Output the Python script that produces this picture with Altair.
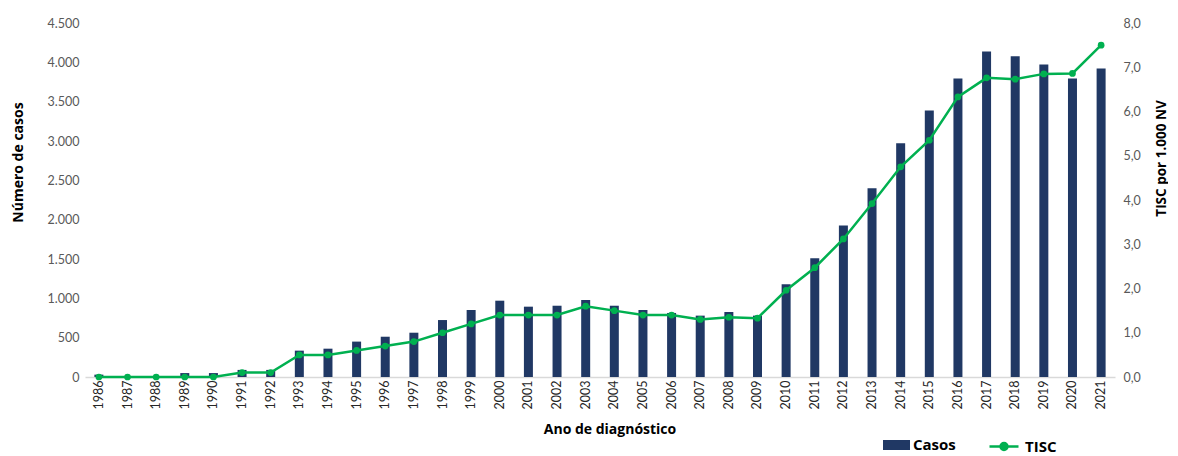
import altair as alt
import pandas as pd

years = [str(y) for y in range(1986, 2022)]
casos = [30, 5, 5, 50, 50, 90, 90, 335, 360, 450, 512, 563, 724, 852, 970, 894, 906, 979,
         906, 852, 814, 780, 826, 780, 1178, 1508, 1927, 2398, 2970, 3389, 3796, 4139,
         4076, 3974, 3796, 3923]
tisc = [0.0, 0.0, 0.0, 0.0, 0.0, 0.1, 0.1, 0.5, 0.5, 0.6, 0.7, 0.8, 1.0, 1.2, 1.4, 1.4, 1.4, 1.6,
        1.5, 1.4, 1.4, 1.3, 1.35, 1.33, 1.96, 2.47, 3.12, 3.92, 4.75, 5.35, 6.33, 6.76,
        6.73, 6.85, 6.86, 7.50]

df = pd.DataFrame({"ano": years, "casos": casos, "tisc": tisc,
                   "s1": ["Casos"] * len(years), "s2": ["TISC"] * len(years)})

NAVY = "#203864"
GREEN = "#00B050"
FONT = "Lato"
TFONT = "Open Sans"

x = alt.X("ano:N", title="Ano de diagnóstico", sort=years,
          scale=alt.Scale(paddingInner=0.69, paddingOuter=0.33),
          axis=alt.Axis(labelAngle=-90, labelColor="#262626", labelFontSize=12.5,
                        labelFont=FONT, domainColor="#D9D9D9", domainWidth=1.5, ticks=False,
                        labelPadding=3, titleFont=TFONT, titleFontSize=14,
                        titleFontWeight="bold", titleColor="#000000",
                        titleX=524.5, titleY=52, titleAlign="center",
                        titleBaseline="middle", titleAnchor="start",
                        labelAlign="right", labelBaseline="middle"))

bars = alt.Chart(df).mark_bar(size=9).encode(
    x=x,
    y=alt.Y("casos:Q", title="Número de casos",
            scale=alt.Scale(domain=[0, 4500], nice=False),
            axis=alt.Axis(values=list(range(0, 4501, 500)), grid=False, domain=False,
                          ticks=False, labelColor="#595959", labelFontSize=12.5,
                          labelFont=FONT, labelPadding=6,
                          labelExpr="replace(format(datum.value, ','), ',', '.')",
                          titleFont=TFONT, titleFontSize=14, titleFontWeight="bold",
                          titleColor="#000000", titleAngle=-90,
                          titleX=-66.5, titleY=139, titleAlign="center",
                          titleBaseline="middle", titleAnchor="start")),
    color=alt.Color("s1:N", scale=alt.Scale(domain=["Casos"], range=[NAVY]),
                    legend=alt.Legend(title=None, orient="none", legendX=801.5, legendY=412,
                                      padding=0,
                                      symbolType="M-1.35,-0.5H1.35V0.5H-1.35Z",
                                      symbolSize=400, labelFont=TFONT, labelFontSize=15,
                                      labelFontWeight="bold", labelColor="#000000",
                                      symbolStrokeWidth=0, labelOffset=6.5)),
)

line = alt.Chart(df).mark_line(
    strokeWidth=2.5, point=alt.OverlayMarkDef(size=45, filled=True, color=GREEN)
).encode(
    x=x,
    y=alt.Y("tisc:Q", title="TISC por 1.000 NV",
            scale=alt.Scale(domain=[0, 8], nice=False),
            axis=alt.Axis(orient="right", values=list(range(0, 9)), grid=False,
                          domain=False, ticks=False, labelColor="#595959",
                          labelFontSize=12.5, labelFont=FONT, labelPadding=8,
                          labelExpr="replace(format(datum.value, '.1f'), '.', ',')",
                          titleFont=TFONT, titleFontSize=13.5, titleFontWeight="bold",
                          titleColor="#000000", titleAngle=-90,
                          titleX=46, titleY=135, titleAlign="center",
                          titleBaseline="middle", titleAnchor="start")),
    color=alt.Color("s2:N", scale=alt.Scale(domain=["TISC"], range=[GREEN]),
                    legend=alt.Legend(title=None, orient="none", legendX=907.5, legendY=412,
                                      padding=0,
                                      symbolType="M-1.45,0H1.45M0.35,0A0.35,0.35 0 1,1 -0.35,0A0.35,0.35 0 1,1 0.35,0",
                                      symbolSize=400, symbolFillColor=GREEN,
                                      symbolStrokeColor=GREEN, symbolStrokeWidth=2.5,
                                      labelFont=TFONT, labelFontSize=15,
                                      labelFontWeight="bold", labelColor="#000000",
                                      labelOffset=9.5)),
)

chart = alt.layer(bars, line).resolve_scale(y="independent", color="independent").properties(
    width=1030, height=354, padding={"left": 3, "top": 9, "right": 0, "bottom": 0}
).configure_view(stroke=None)

chart.save("out.html", embed_options={"renderer": "svg", "actions": False})
